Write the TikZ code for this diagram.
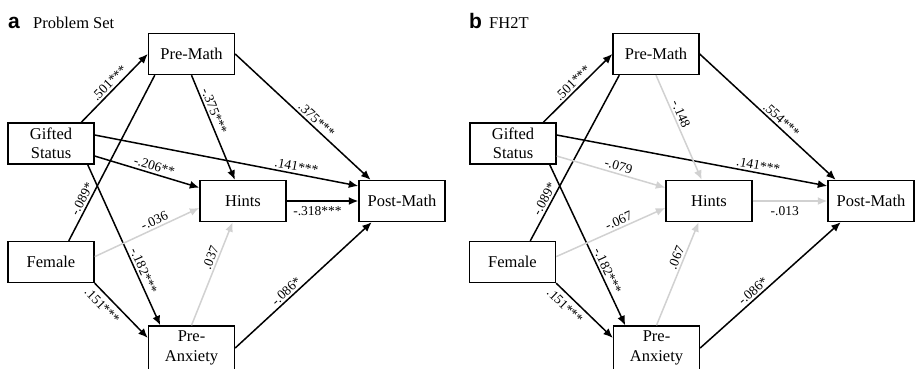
\documentclass[tikz,border=0pt]{standalone}
\usepackage{fontspec}
\setmainfont{Liberation Serif}
\newfontfamily\panelfont{Liberation Sans}
\usetikzlibrary{arrows.meta}
\definecolor{nsgray}{gray}{0.82}
\tikzset{font={\fontsize{16.5pt}{19.5pt}\selectfont}}

\begin{document}
\begin{tikzpicture}[x=1pt,y=-1pt,
box/.style={draw,line width=1.4pt,minimum width=86pt,minimum height=41pt,inner sep=0pt,align=center},
sig/.style={line width=1.5pt,-{Latex[length=9.5pt,width=8pt]}},
nonsig/.style={sig,draw=nsgray},
coef/.style={font={\fontsize{13.5pt}{15pt}\selectfont},sloped,inner sep=2pt},
tag/.style={anchor=base west,inner sep=0pt,font={\panelfont\bfseries\fontsize{21pt}{21pt}\selectfont}},
title/.style={anchor=base west,inner sep=0pt}
]
\useasboundingbox (0,0) rectangle (917,368);

% panel a
\node[tag] (a-tag) at (8,28) {a};
\node[title] (a-title) at (33,28) {Problem Set};
\node[box] (a-prema) at (191.5,54) {Pre-Math};
\node[box] (a-gifted) at (51,143.5) {Gifted\\Status};
\node[box] (a-hints) at (243,201) {Hints};
\node[box] (a-post) at (402,201) {Post-Math};
\node[box] (a-female) at (51,262) {Female};
\node[box,minimum height=44pt] (a-anx) at (191.5,348) {Pre-\\Anxiety};

\draw[sig] (a-gifted.35) -- (a-prema.west) node[coef,midway,above] {.501***};
\draw[line width=1.5pt] (a-female.50) -- (a-prema.210) node[coef,pos=.23,above] {-.089*};
\draw[sig] (a-gifted.-30) -- (a-anx.144) node[coef,pos=.68,above] {-.182***};
\draw[sig] (a-gifted.-16) -- (a-hints.163) node[coef,pos=.55,above] {-.206**};
\draw[sig] (a-gifted.11) -- (a-post.161) node[coef,pos=.76,above] {.141***};
\draw[sig] (a-prema.south) -- (a-hints.111) node[coef,pos=.37,above] {-.375***};
\draw[sig] (a-prema.east) -- (a-post.146) node[coef,pos=.565,above] {.375***};
\draw[sig] (a-hints.east) -- (a-post.west) node[coef,pos=.43,below=3pt] {-.318***};
\draw[nonsig] (a-female.7) -- (a-hints.-171) node[coef,pos=.6,above] {-.036};
\draw[sig] (a-female.south east) -- (a-anx.167) node[coef,pos=.28,below=3pt] {.151***};
\draw[nonsig] (a-anx.north) -- (a-hints.-116) node[coef,pos=.63,above] {.037};
\draw[sig] (a-anx.east) -- (a-post.-145) node[coef,pos=.41,above] {-.086*};

% panel b
\node[tag] (b-tag) at (469,28) {b};
\node[title] (b-title) at (489,28) {FH2T};
\node[box] (b-prema) at (656,54) {Pre-Math};
\node[box] (b-gifted) at (513,143.5) {Gifted\\Status};
\node[box] (b-hints) at (709,201) {Hints};
\node[box] (b-post) at (871,201) {Post-Math};
\node[box] (b-female) at (512.5,262) {Female};
\node[box,minimum height=44pt] (b-anx) at (656.5,348) {Pre-\\Anxiety};

\draw[sig] (b-gifted.35) -- (b-prema.west) node[coef,midway,above] {.501***};
\draw[line width=1.5pt] (b-female.50) -- (b-prema.210) node[coef,pos=.23,above] {-.089*};
\draw[sig] (b-gifted.-30) -- (b-anx.144) node[coef,pos=.68,above] {-.182***};
\draw[nonsig] (b-gifted.-16) -- (b-hints.163) node[coef,pos=.55,above] {-.079};
\draw[sig] (b-gifted.11) -- (b-post.161) node[coef,pos=.74,above] {.141***};
\draw[nonsig] (b-prema.south) -- (b-hints.109) node[coef,pos=.4,above] {-.148};
\draw[sig] (b-prema.east) -- (b-post.149) node[coef,pos=.565,above] {.554***};
\draw[nonsig] (b-hints.east) -- (b-post.west) node[coef,pos=.43,below=3pt] {-.013};
\draw[nonsig] (b-female.7) -- (b-hints.-171) node[coef,pos=.6,above] {-.067};
\draw[sig] (b-female.south east) -- (b-anx.167) node[coef,pos=.28,below=3pt] {.151***};
\draw[nonsig] (b-anx.north) -- (b-hints.-116) node[coef,pos=.63,above] {.067};
\draw[sig] (b-anx.east) -- (b-post.-145) node[coef,pos=.41,above] {-.086*};
\end{tikzpicture}
\end{document}
